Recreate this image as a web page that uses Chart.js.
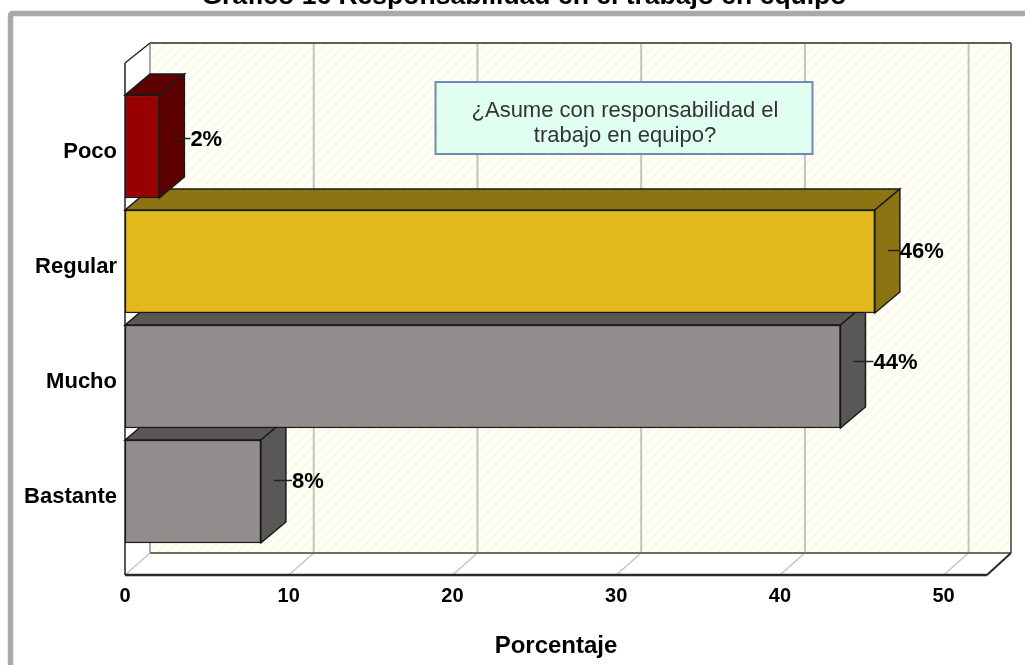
<!DOCTYPE html>
<html>
<head>
<meta charset="utf-8">
<style>
  html, body { margin: 0; padding: 0; background: #fff; overflow: hidden; }
  #wrap { width: 1025px; height: 665px; }
</style>
</head>
<body>
<div id="wrap"><canvas id="grafico" width="1025" height="665"></canvas></div>
<script src="https://cdn.jsdelivr.net/npm/chart.js@4"></script>
<script>
const categorias = ["Poco", "Regular", "Mucho", "Bastante"];
const valores = [2.1, 45.8, 43.7, 8.3];
const rotulos = ["2%", "46%", "44%", "8%"];
const coresFrente = ["#990000", "#e2b91c", "#928e8d", "#928e8d"];
const coresLado = ["#5c0000", "#8c7413", "#5a5857", "#5a5857"];
const titulo = "Gráfico 16 Responsabilidad en el trabajo en equipo";
const tituloEixo = "Porcentaje";
const nota = ["¿Asume con responsabilidad el", "trabajo en equipo?"];

// deslocamento da "profundidade" 3D
const DX = 25, DY = 21;
const FONTE = '"Liberation Sans", Arial, sans-serif';
// ajuste fino dos rotulos, o original nao e regular
const ajusteX = [0, -6, 2, 0];
const ajusteY = [3, 0, -4, 0];

function padraoListras(ctx) {
    const c = document.createElement("canvas");
    c.width = 10; c.height = 10;
    const p = c.getContext("2d");
    p.fillStyle = "#ffffff";
    p.fillRect(0, 0, 10, 10);
    p.strokeStyle = "#fbfbe6";
    p.lineWidth = 3.5;
    [[-5, 5, 5, -5], [0, 10, 10, 0], [5, 15, 15, 5]].forEach(l => {
        p.beginPath(); p.moveTo(l[0], l[1]); p.lineTo(l[2], l[3]); p.stroke();
    });
    return ctx.createPattern(c, "repeat");
}

function poligono(ctx, pts, fill, stroke, lw) {
    ctx.beginPath();
    pts.forEach((p, i) => i ? ctx.lineTo(p[0], p[1]) : ctx.moveTo(p[0], p[1]));
    ctx.closePath();
    if (fill) { ctx.fillStyle = fill; ctx.fill(); }
    if (stroke) { ctx.strokeStyle = stroke; ctx.lineWidth = lw || 1; ctx.stroke(); }
}

function linha(ctx, x1, y1, x2, y2, cor, lw) {
    ctx.beginPath();
    ctx.moveTo(x1, y1);
    ctx.lineTo(x2, y2);
    ctx.strokeStyle = cor;
    ctx.lineWidth = lw;
    ctx.stroke();
}

const caixa3D = {
    id: "caixa3D",
    beforeDatasetsDraw(chart) {
        const ctx = chart.ctx, a = chart.chartArea, xs = chart.scales.x;
        // moldura cinza
        ctx.save();
        ctx.strokeStyle = "#a9a9a9";
        ctx.lineWidth = 5.5;
        ctx.beginPath();
        ctx.moveTo(10.5, 680);
        ctx.lineTo(10.5, 16);
        ctx.quadraticCurveTo(10.5, 13.5, 13, 13.5);
        ctx.lineTo(1040, 13.5);
        ctx.stroke();

        // titulo, cortado no topo como no original
        ctx.fillStyle = "#000";
        ctx.font = 'bold 26.5px ' + FONTE;
        ctx.textAlign = "center";
        ctx.textBaseline = "alphabetic";
        ctx.fillText(titulo, 524, 4);

        const x0 = a.left, x1 = a.right;
        const yTopo = 63, yBase = 575;
        const cima = yTopo - 20, fundo = yBase - 22;

        // parede de fundo, parede esquerda e piso
        poligono(ctx, [[x0 + DX, cima], [x1 + DX - 1, cima], [x1 + DX - 1, fundo], [x0 + DX, fundo]], padraoListras(ctx));
        poligono(ctx, [[x0, yTopo], [x0 + DX, cima], [x0 + DX, fundo], [x0, yBase]], "#ffffff");
        poligono(ctx, [[x0, yBase], [x0 + DX, fundo], [x1 + DX - 1, fundo], [x1, yBase]], "#ffffff");

        // grade
        xs.ticks.forEach(t => {
            const px = xs.getPixelForValue(t.value);
            if (t.value > 0) {
                linha(ctx, px + DX, cima, px + DX, fundo, "#c4c4bc", 2);
            }
            linha(ctx, px, yBase, px + DX, fundo, "#c4c4c4", 1.5);
        });

        // contornos
        linha(ctx, x0 + DX, cima, x1 + DX - 1, cima, "#5f5f55", 2);
        linha(ctx, x1 + DX - 1, cima, x1 + DX - 1, fundo, "#6f6f60", 2);
        linha(ctx, x0 + DX, fundo, x1 + DX - 1, fundo, "#6f6f60", 2);
        linha(ctx, x0 + DX, cima, x0 + DX, fundo, "#8f8f88", 1.5);
        linha(ctx, x0, yTopo, x0 + DX, cima, "#222", 1.5);
        linha(ctx, x0, yTopo, x0, yBase, "#222", 1.5);
        linha(ctx, x0, yBase, x1, yBase, "#2a2a2a", 2.5);
        linha(ctx, x1, yBase, x1 + DX - 1, fundo, "#2a2a2a", 2);

        // caixa de texto
        poligono(ctx, [[435.5, 82], [812.5, 82], [812.5, 154], [435.5, 154]], "#e0fff0", "#7388b4", 2);
        ctx.fillStyle = "#333";
        ctx.font = '22px ' + FONTE;
        ctx.textBaseline = "middle";
        ctx.fillText(nota[0], 625, 111);
        ctx.fillText(nota[1], 625, 136);

        // faces laterais e de cima, de baixo para cima
        const barras = chart.getDatasetMeta(0).data;
        for (let i = barras.length - 1; i >= 0; i--) {
            const b = barras[i];
            const e = b.base, d = b.x, t = b.y - b.height / 2, f = b.y + b.height / 2;
            poligono(ctx, [[e, t], [e + DX, t - DY], [d + DX, t - DY], [d, t]], coresLado[i], "#1a1a1a", 1.5);
            poligono(ctx, [[d, t], [d + DX, t - DY], [d + DX, f - DY], [d, f]], coresLado[i], "#1a1a1a", 1.5);
        }
        ctx.restore();
    },
    afterDatasetsDraw(chart) {
        const ctx = chart.ctx;
        ctx.save();
        ctx.font = 'bold 22px ' + FONTE;
        ctx.textAlign = "left";
        ctx.textBaseline = "middle";
        chart.getDatasetMeta(0).data.forEach((b, i) => {
            const yy = b.y - 11 + ajusteY[i];
            const xx = b.x + 31 + ajusteX[i];
            linha(ctx, b.x + 13, yy, xx, yy, "#222", 1.5);
            ctx.fillStyle = "#000";
            ctx.fillText(rotulos[i], xx, yy + 1);
        });
        ctx.restore();
    }
};

new Chart(document.getElementById("grafico").getContext("2d"), {
    type: "bar",
    data: {
        labels: categorias,
        datasets: [{
            data: valores,
            backgroundColor: coresFrente,
            borderColor: "#1a1a1a",
            borderWidth: 1.5,
            borderSkipped: false,
            barThickness: 103
        }]
    },
    options: {
        indexAxis: "y",
        responsive: false,
        animation: false,
        layout: { padding: { top: 89, right: 38, left: 0, bottom: 0 } },
        plugins: {
            legend: { display: false },
            tooltip: { enabled: false },
            title: { display: false }
        },
        scales: {
            x: {
                min: 0,
                max: 52.65,
                afterFit(s) { s.height = 116; },
                grid: { display: false, drawTicks: false },
                border: { display: false },
                ticks: {
                    stepSize: 10,
                    includeBounds: false,
                    padding: 35,
                    color: "#000",
                    font: { family: FONTE, size: 20, weight: "bold" }
                },
                title: {
                    display: true,
                    text: tituloEixo,
                    color: "#000",
                    padding: { top: 23 },
                    font: { family: FONTE, size: 24, weight: "bold" }
                }
            },
            y: {
                afterFit(s) { s.width = 125; },
                grid: { display: false, drawTicks: false },
                border: { display: false },
                ticks: {
                    padding: 8,
                    labelOffset: 5,
                    color: "#000",
                    font: { family: FONTE, size: 22, weight: "bold" }
                }
            }
        }
    },
    plugins: [caixa3D]
});
</script>
</body>
</html>
